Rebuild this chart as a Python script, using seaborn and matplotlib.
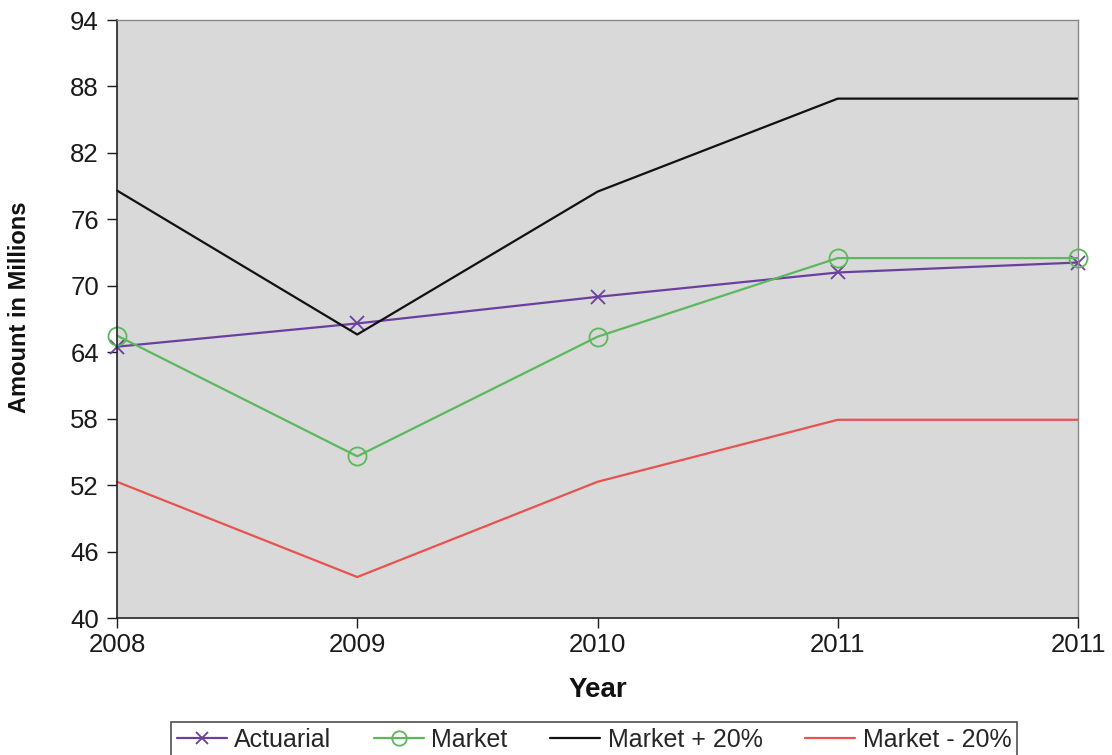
import numpy as np
import pandas as pd
import matplotlib
matplotlib.use("Agg")
import matplotlib.pyplot as plt
import seaborn as sns

years = ["2008", "2009", "2010", "2011", "2011"]
actuarial = [64.5, 66.6, 69.0, 71.2, 72.1]
market = [65.5, 54.6, 65.4, 72.5, 72.5]
market_plus = [78.6, 65.6, 78.5, 86.9, 86.9]
market_minus = [52.3, 43.7, 52.3, 57.9, 57.9]

series_names = ["Actuarial", "Market", "Market + 20%", "Market - 20%"]
series_vals = [actuarial, market, market_plus, market_minus]
colors = ["#6a3fa0", "#5cb85c", "#111111", "#e8524f"]
markers = ["x", "o", None, None]

sns.set_theme(style="white")
plt.rcParams['font.family'] = ['Liberation Sans', 'DejaVu Sans']

fig = plt.figure(figsize=(11.12, 7.55), dpi=100)
ax = fig.add_axes([117/1112, 1-618/755, (1078-117)/1112, (618-20)/755])
ax.set_facecolor("#d9d9d9")

idx = np.arange(len(years))
for name, vals, c, m in zip(series_names, series_vals, colors, markers):
    df = pd.DataFrame({"x": idx, "y": vals})
    kw = {}
    if m == "x":
        kw = dict(marker="x", markersize=10, markeredgewidth=1.3, markeredgecolor=c)
    elif m == "o":
        kw = dict(marker="o", markersize=13, markerfacecolor="none",
                  markeredgewidth=1.3, markeredgecolor=c)
    sns.lineplot(data=df, x="x", y="y", ax=ax, color=c, linewidth=1.6,
                 label=name, clip_on=False, **kw)

ax.set_xlim(0, len(years) - 1)
ax.set_ylim(40, 94)
ax.set_yticks(np.arange(40, 95, 6))
ax.set_xticks(idx)
ax.set_xticklabels(years)
ax.tick_params(axis="both", labelsize=18.5, colors="#1a1a1a", length=7, width=1,
               direction="out", left=True, bottom=True)
ax.tick_params(axis="y", pad=6)
ax.tick_params(axis="x", pad=4)
for s in ["left", "bottom"]:
    ax.spines[s].set_color("#222222")
    ax.spines[s].set_linewidth(1.2)
for s in ["top", "right"]:
    ax.spines[s].set_color("#888888")
    ax.spines[s].set_linewidth(1.0)

ax.set_xlabel("Year", fontsize=20, fontweight="bold", labelpad=14, color="#111111")
ax.set_ylabel("Amount in Millions", fontsize=17, fontweight="bold",
              color="#111111")
ax.yaxis.set_label_coords(-0.089, 0.52)

ax.get_legend().remove()
handles, labels = ax.get_legend_handles_labels()
leg = fig.legend(handles, labels, loc="upper center", bbox_to_anchor=(594/1112, 1-709/755),
                 ncol=4, frameon=True, fontsize=18, handlelength=2.0, handletextpad=0.3,
                 columnspacing=1.7, borderpad=0.25, fancybox=False, markerscale=0.8)
leg.get_frame().set_edgecolor("#222222")
leg.get_frame().set_linewidth(1.2)

fig.savefig("out.png", dpi=100, facecolor="white")
